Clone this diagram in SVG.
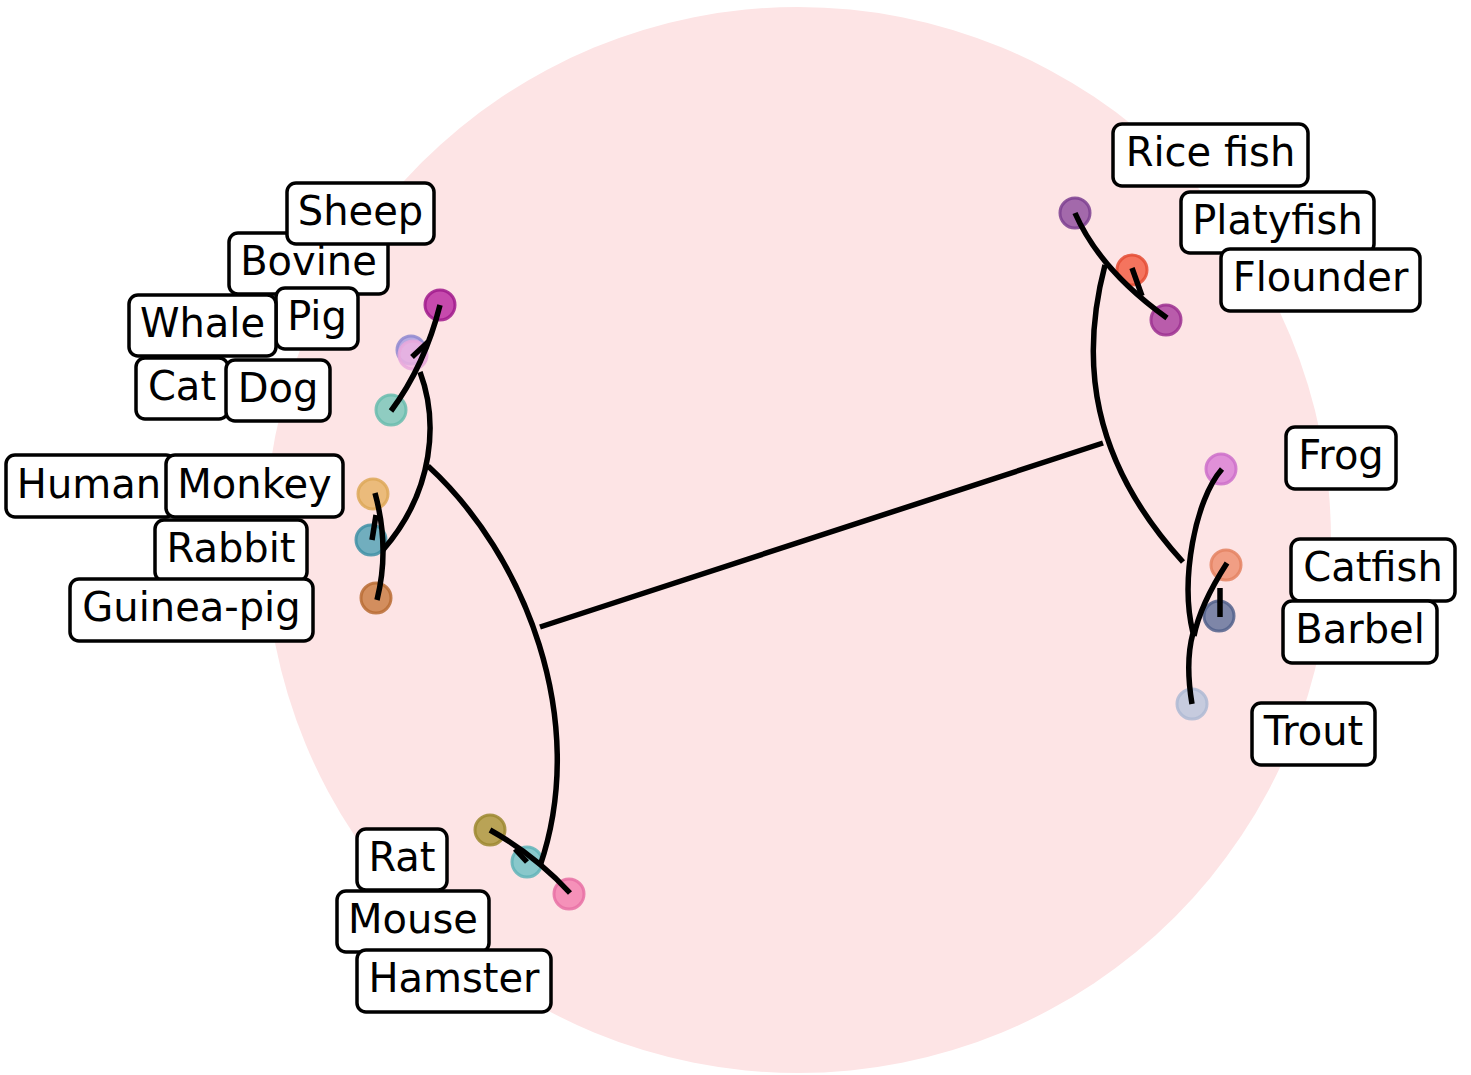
<svg xmlns="http://www.w3.org/2000/svg" width="1471" height="1075" viewBox="0 0 1471 1075">
<style>
.lbl rect{fill:#ffffff;stroke:#000000;stroke-width:3.5}
.lbl text{font-family:"DejaVu Sans","Liberation Sans",sans-serif;font-size:40px;fill:#000000;text-anchor:middle}
.edge{fill:none;stroke:#000000;stroke-width:5.5;stroke-linecap:butt}
.tip{stroke-width:3;fill-opacity:0.8;stroke-opacity:0.85}
</style>
<rect x="0" y="0" width="1471" height="1075" fill="#ffffff"/>
<circle id="background" cx="798" cy="540" r="533" fill="#fde4e5"/>
<g id="tips">
<circle class="tip" cx="440" cy="305" r="15" fill="#b8239f" stroke="#a01a8c"/>
<circle class="tip" cx="411" cy="350" r="14" fill="#a59ae0" stroke="#8f88d0"/>
<circle class="tip" cx="413" cy="355" r="14" fill="#f0b4e2" stroke="#e8a8dc"/>
<circle class="tip" cx="391" cy="410" r="15" fill="#73c6b8" stroke="#68bcae"/>
<circle class="tip" cx="373" cy="494" r="15" fill="#e6b060" stroke="#dda858"/>
<circle class="tip" cx="371" cy="540" r="15" fill="#4ea0b4" stroke="#4090a6"/>
<circle class="tip" cx="376" cy="598" r="15" fill="#c8783c" stroke="#b86c34"/>
<circle class="tip" cx="490" cy="830" r="15" fill="#a89232" stroke="#9c8830"/>
<circle class="tip" cx="527" cy="862" r="15" fill="#6cc0c4" stroke="#60b4b8"/>
<circle class="tip" cx="569" cy="894" r="15" fill="#f27cae" stroke="#e870a4"/>
<circle class="tip" cx="1075" cy="213" r="15" fill="#8c4a9c" stroke="#7c4090"/>
<circle class="tip" cx="1132" cy="270" r="15" fill="#f2583c" stroke="#e44c34"/>
<circle class="tip" cx="1166" cy="320" r="15" fill="#a83a9c" stroke="#9c3090"/>
<circle class="tip" cx="1221" cy="469" r="15" fill="#d87ad4" stroke="#cc70ca"/>
<circle class="tip" cx="1226" cy="565" r="15" fill="#ee8c6c" stroke="#e48262"/>
<circle class="tip" cx="1219" cy="616" r="15" fill="#5e6e98" stroke="#52628c"/>
<circle class="tip" cx="1192" cy="704" r="15" fill="#b8c4dc" stroke="#aebad4"/>
</g>
<g id="connectors">
<path class="edge" d="M540,627 L1103,443"/>
<path class="edge" d="M428,466 C525,555 590,720 540,866"/>
<path class="edge" d="M1105,265 C1080,360 1090,460 1183,562"/>
<path class="edge" d="M440,305 Q425,365 391,411"/>
<path class="edge" d="M412,357 L428,342"/>
<path class="edge" d="M420,372 C438,420 435,490 383,550"/>
<path class="edge" d="M375,493 Q390,548 377,600"/>
<path class="edge" d="M372,540 L376,515"/>
<path class="edge" d="M490,830 Q535,855 570,893"/>
<path class="edge" d="M527,862 L515,849"/>
<path class="edge" d="M1075,213 Q1100,270 1167,318"/>
<path class="edge" d="M1132,268 L1142,296"/>
<path class="edge" d="M1222,469 C1195,500 1180,580 1193,633 C1187,655 1188,680 1192,704"/>
<path class="edge" d="M1194,636 Q1200,605 1227,563"/>
<path class="edge" d="M1220,617 L1220,588"/>
</g>
<g id="label-bovine" class="lbl"><rect x="229" y="233" width="159" height="61" rx="9"/><text x="308.5" y="275">Bovine</text></g>
<g id="label-sheep" class="lbl"><rect x="287" y="183" width="147" height="61" rx="9"/><text x="360.5" y="225">Sheep</text></g>
<g id="label-pig" class="lbl"><rect x="276" y="288" width="82" height="61" rx="9"/><text x="317" y="330">Pig</text></g>
<g id="label-whale" class="lbl"><rect x="129" y="295" width="147" height="61" rx="9"/><text x="202.5" y="337">Whale</text></g>
<g id="label-cat" class="lbl"><rect x="136" y="358" width="92" height="61" rx="9"/><text x="182" y="400">Cat</text></g>
<g id="label-dog" class="lbl"><rect x="226" y="360" width="104" height="61" rx="9"/><text x="278" y="402">Dog</text></g>
<g id="label-human" class="lbl"><rect x="6" y="455" width="169" height="62" rx="9"/><text x="89" y="498">Human</text></g>
<g id="label-monkey" class="lbl"><rect x="166" y="455" width="177" height="62" rx="9"/><text x="254.5" y="498">Monkey</text></g>
<g id="label-rabbit" class="lbl"><rect x="155" y="520" width="152" height="61" rx="9"/><text x="231" y="562">Rabbit</text></g>
<g id="label-guinea-pig" class="lbl"><rect x="70" y="579" width="243" height="62" rx="9"/><text x="191.5" y="621">Guinea-pig</text></g>
<g id="label-rice-fish" class="lbl"><rect x="1113" y="124" width="195" height="62" rx="9"/><text x="1210.5" y="166">Rice fish</text></g>
<g id="label-platyfish" class="lbl"><rect x="1181" y="192" width="193" height="61" rx="9"/><text x="1277.5" y="234">Platyfish</text></g>
<g id="label-flounder" class="lbl"><rect x="1221" y="249" width="199" height="62" rx="9"/><text x="1320.5" y="291">Flounder</text></g>
<g id="label-frog" class="lbl"><rect x="1286" y="427" width="110" height="62" rx="9"/><text x="1341" y="469">Frog</text></g>
<g id="label-catfish" class="lbl"><rect x="1291" y="539" width="164" height="62" rx="9"/><text x="1373" y="581">Catfish</text></g>
<g id="label-barbel" class="lbl"><rect x="1283" y="601" width="154" height="62" rx="9"/><text x="1360" y="643">Barbel</text></g>
<g id="label-trout" class="lbl"><rect x="1252" y="703" width="123" height="62" rx="9"/><text x="1313.5" y="745">Trout</text></g>
<g id="label-rat" class="lbl"><rect x="357" y="829" width="90" height="61" rx="9"/><text x="402" y="871">Rat</text></g>
<g id="label-mouse" class="lbl"><rect x="337" y="891" width="152" height="61" rx="9"/><text x="413" y="933">Mouse</text></g>
<g id="label-hamster" class="lbl"><rect x="357" y="950" width="194" height="62" rx="9"/><text x="454" y="992">Hamster</text></g>
</svg>
